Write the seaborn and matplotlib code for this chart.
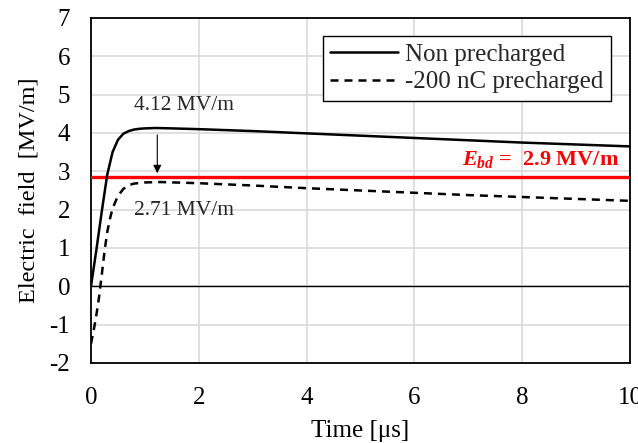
import numpy as np
import pandas as pd
import matplotlib
matplotlib.use("Agg")
import matplotlib.pyplot as plt
import seaborn as sns

# values
t_non = [0, 0.1, 0.2, 0.3, 0.4, 0.5, 0.6, 0.7, 0.8, 0.9, 1.0, 1.2, 1.5,
         2, 3, 4, 5, 6, 7, 8, 9, 10]
e_non = [0, 0.95, 1.95, 2.9, 3.5, 3.82, 3.98, 4.05, 4.09, 4.11, 4.12, 4.13, 4.12,
         4.10, 4.05, 3.99, 3.93, 3.87, 3.81, 3.75, 3.70, 3.65]

t_pre = [0, 0.05, 0.1, 0.15, 0.2, 0.25, 0.3, 0.35, 0.4, 0.5, 0.6, 0.7, 0.8,
         1.0, 1.3, 2, 3, 4, 5, 6, 7, 8, 9, 10]
e_pre = [-1.5, -1.15, -0.75, -0.28, 0.3, 0.9, 1.4, 1.75, 2.03, 2.36, 2.54, 2.64, 2.68,
         2.71, 2.72, 2.69, 2.63, 2.56, 2.50, 2.44, 2.38, 2.33, 2.28, 2.23]

e_bd = 2.85
peak_t = 1.23
labels = ["Non precharged", "-200 nC precharged"]

sns.set_theme(style="whitegrid")
plt.rcParams["font.family"] = ["Liberation Serif", "DejaVu Serif"]
plt.rcParams["mathtext.fontset"] = "custom"
plt.rcParams["mathtext.it"] = "Liberation Serif:italic:bold"
plt.rcParams["mathtext.rm"] = "Liberation Serif:bold"
plt.rcParams["axes.unicode_minus"] = False

fig, ax = plt.subplots(figsize=(6.38, 4.43), dpi=100)
fig.subplots_adjust(left=0.1426, right=0.9875, top=0.9594, bottom=0.1806)

df_non = pd.DataFrame({"t": t_non, "E": e_non})
df_pre = pd.DataFrame({"t": t_pre, "E": e_pre})

ax.axhline(0, color="black", lw=1.0, zorder=2)
ax.axhline(e_bd, color="red", lw=2.4, zorder=3)

sns.lineplot(data=df_non, x="t", y="E", ax=ax, color="black", lw=1.8,
             estimator=None, label=labels[0], zorder=4)
sns.lineplot(data=df_pre, x="t", y="E", ax=ax, color="black", lw=1.8,
             linestyle=(0, (3.2, 2.4)), estimator=None, label=labels[1], zorder=4)

ax.annotate("", xy=(peak_t, 2.95), xytext=(peak_t, 3.95),
            arrowprops=dict(arrowstyle="-|>", color="black", lw=0.8,
                            mutation_scale=12, shrinkA=0, shrinkB=0))
ax.text(0.8, 4.72, "4.12 MV/m", fontsize=15.5, va="center", ha="left")
ax.text(0.8, 1.98, "2.71 MV/m", fontsize=15.5, va="center", ha="left")
ax.text(9.8, 3.3, r"$E_{bd}$ =  2.9 MV/m", color="red", fontsize=16,
        fontweight="bold", ha="right", va="center")

ax.set_xlim(0, 10)
ax.set_ylim(-2, 7)
ax.set_xticks(np.arange(0, 11, 2))
ax.set_yticks(np.arange(-2, 8, 1))
ax.tick_params(length=0, labelsize=18, colors="black")
ax.tick_params(axis="y", pad=15)
ax.tick_params(axis="x", pad=17)
ax.set_xlabel("Time [\u03bcs]", fontsize=18, color="black", labelpad=8)
ax.set_ylabel("Electric  field  [MV/m]", fontsize=17.5, color="black", labelpad=7)

ax.grid(True, color="#d9d9d9", lw=1.2)
for s in ax.spines.values():
    s.set_color("black")
    s.set_linewidth(1.3)

leg = ax.legend(loc="upper right", bbox_to_anchor=(0.965, 0.948), fontsize=18,
                frameon=True, fancybox=False, framealpha=1, edgecolor="black",
                handlelength=2.7, handletextpad=0.3, labelspacing=0.2,
                borderpad=0.3, borderaxespad=0)
leg.get_frame().set_linewidth(1.0)

fig.savefig("out.png", dpi=100)
